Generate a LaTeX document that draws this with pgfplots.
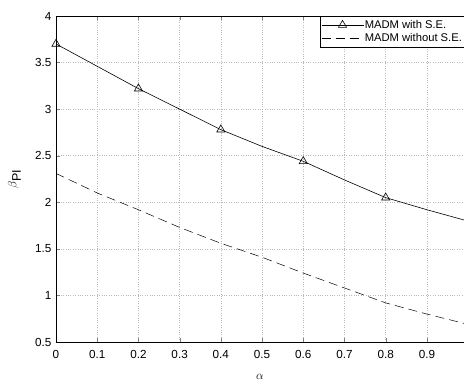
\documentclass[border=0pt]{standalone}
\usepackage{pgfplots}
\pgfplotsset{compat=1.18}
\usepackage{fontspec}
\setmainfont{Liberation Sans}
\setsansfont{Liberation Sans}
\begin{document}
\begin{tikzpicture}[x=1pt,y=1pt]
\clip (-56pt,-38pt) rectangle (408pt,342pt);
\begin{axis}[
  at={(0,0)}, anchor=south west,
  scale only axis,
  width=408pt, height=326pt,
  xmin=0, xmax=0.99, ymin=0.5, ymax=4,
  axis x line*=box, axis y line*=left,
  xtick={0,0.1,...,0.9},
  ytick={0.5,1,...,4},
  xticklabels={0,0.1,0.2,0.3,0.4,0.5,0.6,0.7,0.8,0.9},
  yticklabels={0.5,1,1.5,2,2.5,3,3.5,4},
  tick align=inside,
  major tick length=4pt,
  grid=major,
  major grid style={dotted, gray!55, line width=0.6pt},
  tick label style={font=\fontsize{11.7}{13}\selectfont},
  xticklabel style={yshift=-5pt},
  yticklabel style={xshift=-1pt},
  /pgf/number format/assume math mode=true,
  xlabel={$\alpha$},
  ylabel={$\beta_{\textsf{PI}}$},
  label style={font=\fontsize{12.5}{14}\selectfont},
  xlabel style={at={(axis description cs:0.5,-0.107)}, anchor=center},
  ylabel style={at={(axis description cs:-0.102,0.5)}, anchor=center},
  legend style={at={(rel axis cs:0.647,1)}, anchor=north west,
    font=\fontsize{11.2}{13}\selectfont, draw=black, line width=0.5pt,
    inner xsep=1pt, inner ysep=2pt, row sep=0pt, legend cell align=left,
    nodes={inner xsep=1pt}},
  legend image code/.code={\draw[#1, mark indices={2}] plot coordinates {(0pt,0pt) (21pt,0pt) (42pt,0pt)};},
  clip=false,
]
\addplot[black, line width=0.6pt, mark=triangle, mark size=4.7pt,
  mark indices={1,3,5,7,9}, mark options={solid, fill=none}]
  coordinates {(0,3.70) (0.1,3.46) (0.2,3.22) (0.3,3.00) (0.4,2.78)
  (0.5,2.60) (0.6,2.44) (0.7,2.24) (0.8,2.05) (0.9,1.92) (0.99,1.81)};
\addlegendentry{MADM with S.E.}
\addplot[black, line width=0.5pt, dash pattern=on 9pt off 5pt]
  coordinates {(0,2.31) (0.1,2.10) (0.2,1.92) (0.3,1.73) (0.4,1.56)
  (0.5,1.41) (0.6,1.24) (0.7,1.08) (0.8,0.92) (0.9,0.80) (0.99,0.70)};
\addlegendentry{MADM without S.E.}
\end{axis}
\end{tikzpicture}
\end{document}
